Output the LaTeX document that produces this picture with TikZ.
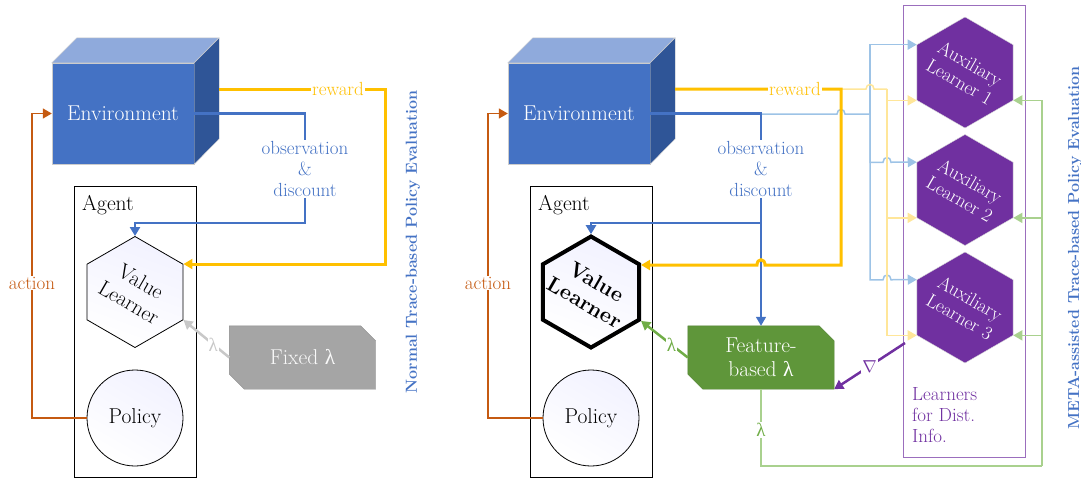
\documentclass[tikz,border=0pt]{standalone}
\usepackage{fontspec}
\newfontfamily\greekfont{Liberation Serif}
\usetikzlibrary{arrows.meta,shapes.geometric}
\pgfdeclarelayer{background}
\pgfsetlayers{background,main}
\definecolor{envfront}{HTML}{4472C4}
\definecolor{envtop}{HTML}{8FAADC}
\definecolor{envside}{HTML}{2F5597}
\definecolor{rewardc}{HTML}{FFC000}
\definecolor{rewardl}{HTML}{FFE699}
\definecolor{obsc}{HTML}{4472C4}
\definecolor{obsl}{HTML}{9DC3E6}
\definecolor{actionc}{HTML}{C55A11}
\definecolor{featc}{HTML}{5F963A}
\definecolor{lambdac}{HTML}{70AD47}
\definecolor{lambdal}{HTML}{A9D18E}
\definecolor{auxc}{HTML}{7030A0}
\definecolor{fixedc}{HTML}{A5A5A5}
\definecolor{fixedl}{HTML}{C8C8C8}
\newcommand{\lam}{{\greekfont λ}}
\tikzstyle{big}=[font=\fontsize{21.5}{24}\selectfont]
\tikzstyle{small}=[font=\fontsize{19}{21}\selectfont]
\tikzstyle{envbox}=[big,fill=envfront,draw=gray!40,text=white,minimum width=142pt,minimum height=101pt,inner sep=0pt]
\tikzstyle{agentbox}=[draw=black,line width=0.8pt,minimum width=122pt,minimum height=291pt,inner sep=0pt]
\tikzstyle{hexagon}=[regular polygon,regular polygon sides=6,shape border rotate=30,minimum size=111pt,inner sep=0pt,draw=black,line width=0.8pt,shading=axis,top color=blue!5,bottom color=white,shading angle=-20]
\tikzstyle{auxhex}=[regular polygon,regular polygon sides=6,shape border rotate=30,minimum size=111pt,inner sep=0pt,fill=auxc,draw=gray!30]
\tikzstyle{hextext}=[big,align=center,rotate=-30,inner sep=0pt]
\tikzstyle{policy}=[big,circle,draw=black,line width=0.8pt,minimum size=96pt,inner sep=0pt,shading=axis,top color=blue!5,bottom color=white,shading angle=-30]
\tikzstyle{lambdabox}=[big,text=white,align=center,minimum width=146pt,minimum height=63pt,inner sep=0pt]
\tikzstyle{rewardline}=[draw=rewardc,line width=3pt]
\tikzstyle{obsline}=[draw=obsc,line width=2.5pt]
\tikzstyle{thinline}=[line width=1.5pt]
\tikzstyle{tag}=[small,fill=white,inner sep=1pt]
\tikzstyle{sidetitle}=[font=\fontsize{16}{19}\selectfont\bfseries,text=obsc,rotate=90]

\begin{document}
\begin{tikzpicture}[x=1pt,y=-1pt,>={Triangle[length=9pt,width=10pt]}]
    \useasboundingbox (0,0) rectangle (1081,480);
    % Both panels: environment cube, agent, policy, action
    \foreach \dx/\p in {0/A,456/B}{
        \node[envbox] (env\p) at (123+\dx,113.5) {Environment};
        \filldraw[fill=envtop,draw=gray!40] (env\p.north west) -- ++(25,-25) -- ++(142,0) -- (env\p.north east) -- cycle;
        \filldraw[fill=envside,draw=gray!40] (env\p.north east) -- ++(25,-25) -- ++(0,101) -- (env\p.south east) -- cycle;
        \node[agentbox] (agent\p) at (135+\dx,332) {};
        \node[big] (agentlabel\p) at (108+\dx,205) {Agent};
        \node[policy] (policy\p) at (135+\dx,418) {Policy};
        \coordinate (act\p) at (32+\dx,418);
        \draw[thinline,draw=actionc,->] (policy\p.west) -- (act\p) |- (env\p.west);
        \node[tag,text=actionc] (actlabel\p) at (32+\dx,283) {action};
    }

    % Normal trace-based policy evaluation
    \node[hexagon] (valueA) at (135,292) {};
    \node[hextext] (valuelabelA) at (valueA) {Value\\Learner};
    \coordinate (rwdA) at (219,89);
    \coordinate (rwdturnA) at (385,89);
    \draw[rewardline,->] (rwdA) -- (rwdturnA) |- (valueA.corner 6);
    \node[tag,text=rewardc] (rwdlabelA) at (338,89) {reward};
    \node[small,text=obsc,align=center,inner sep=1pt] (obsA) at (305,169) {observation\\\&\\discount};
    \draw[obsline] (envA.east) -| (obsA.north);
    \coordinate (obsturnA) at (305,223);
    \draw[obsline,->] (obsA.south) -- (obsturnA) -| (valueA.north);
    \node[lambdabox,text=white!95!gray] (fixedA) at (302.5,357.5) {Fixed \lam};
    \draw[line width=2.5pt,draw=fixedl,->] (fixedA.west) -- (valueA.corner 5) node[tag,pos=0.35,text=fixedl] {\lam};
    \node[sidetitle] (titleA) at (413,242) {Normal Trace-based Policy Evaluation};

    % META-assisted trace-based policy evaluation
    \node[hexagon,line width=4pt] (valueB) at (591,292) {};
    \node[hextext,font=\fontsize{21.5}{24}\selectfont\bfseries] (valuelabelB) at (valueB) {Value\\Learner};
    \node[draw=auxc!70,minimum width=122pt,minimum height=452pt,inner sep=0pt] (distbox) at (964,231) {};
    \foreach \i/\y in {1/72.5,2/190,3/307.5}{
        \node[auxhex] (aux\i) at (965,\y) {};
        \node[hextext,text=white,font=\fontsize{19}{21}\selectfont] (auxlabel\i) at (aux\i) {Auxiliary\\Learner \i};
    }
    \node[small,text=auxc,align=left,anchor=north west,inner sep=0pt] (distlabel) at (912,387) {Learners\\for Dist.\\Info.};
    \node[lambdabox] (featB) at (761,357.5) {Feature-\\based \lam};
    \node[small,text=obsc,align=center,inner sep=1pt] (obsB) at (761,169) {observation\\\&\\discount};
    \coordinate (rwdB) at (675,89);
    \coordinate (rwdturnB) at (841,89);
    \coordinate (rwdinB) at (841,265);
    \coordinate (obssplit) at (761,114);
    \coordinate (obsturnB) at (761,223);
    \coordinate (bluebus) at (870,114);
    \coordinate (yellowbus) at (887,89);
    \coordinate (lambus) at (1042,466);
    \coordinate (gradstart) at (905,343);
    % light lines to the auxiliary learners
    \draw[thinline,draw=obsl] (obssplit) -- (837,114) .. controls (837,108) and (845,108) .. (845,114) -- (bluebus);
    \draw[thinline,draw=obsl,->] (bluebus) |- (aux1.corner 2);
    \draw[thinline,draw=obsl,->] (bluebus) -- (870,162.25) -- (883,162.25) .. controls (883,156) and (891,156) .. (891,162.25) -- (aux2.corner 2);
    \draw[thinline,draw=obsl,->] (bluebus) -- (870,279.75) -- (883,279.75) .. controls (883,273.5) and (891,273.5) .. (891,279.75) -- (aux3.corner 2);
    \draw[thinline,draw=rewardl] (rwdturnB) -- (866,89) .. controls (866,83) and (874,83) .. (874,89) -- (yellowbus);
    \foreach \i in {1,2,3}{
        \draw[thinline,draw=rewardl,->] (yellowbus) |- (aux\i.corner 3);
        \draw[thinline,draw=lambdal,->] (lambus) |- (aux\i.corner 5);
    }
    \draw[thinline,draw=lambdal] (featB.south) |- (lambus);
    \node[tag,text=lambdac] (lamlabel) at (761,430) {\lam};
    % main lines of the right panel
    \draw[obsline] (envB.east) -| (obsB.north);
    \draw[obsline,->] (obsB.south) -- (obsturnB) -| (valueB.north);
    \draw[thinline,draw=obsc,->] (obsturnB) -- (featB.north);
    \draw[rewardline,->] (rwdB) -- (rwdturnB) -- (rwdinB) -- (765,265) .. controls (765,258) and (757,258) .. (757,265) -- (valueB.corner 6 |- rwdinB);
    \node[tag,text=rewardc] (rwdlabelB) at (795,89) {reward};
    \draw[line width=2.5pt,draw=lambdac,->] (featB.west) -- (valueB.corner 5) node[tag,pos=0.35,text=lambdac] {\lam};
    \draw[line width=2.5pt,draw=auxc,->] (gradstart) -- (featB.south east) node[tag,midway,text=auxc] {$\nabla$};
    \node[sidetitle] (titleB) at (1075,248) {META-assisted Trace-based Policy Evaluation};

    % cut-corner boxes
    \begin{pgfonlayer}{background}
        \foreach \b/\c in {fixedA/fixedc,featB/featc}
            \filldraw[fill=\c,draw=\c!85!black,thin] (\b.north west) -- ([xshift=-15pt]\b.north east) -- ([yshift=-15pt]\b.north east) -- (\b.south east) -- ([xshift=15pt]\b.south west) -- ([yshift=15pt]\b.south west) -- cycle;
    \end{pgfonlayer}
\end{tikzpicture}
\end{document}
